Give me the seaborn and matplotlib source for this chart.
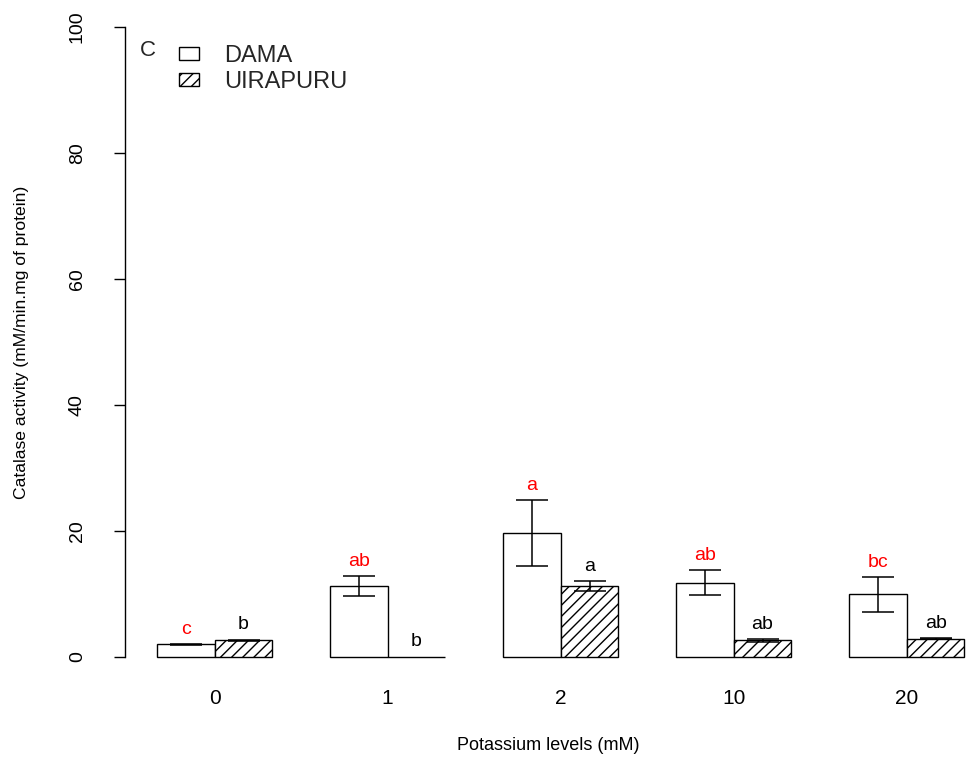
import matplotlib
matplotlib.use("Agg")
import matplotlib.pyplot as plt
import seaborn as sns
import pandas as pd
import numpy as np

# ---- data ----
levels = ["0", "1", "2", "10", "20"]
cultivars = ["DAMA", "UIRAPURU"]
dama_mean = [2.0, 11.2, 19.7, 11.8, 9.9]
dama_err = [0.1, 1.6, 5.2, 2.0, 2.8]
uira_mean = [2.6, 0.05, 11.2, 2.6, 2.9]
uira_err = [0.15, 0.0, 0.8, 0.2, 0.1]
dama_letters = ["c", "ab", "a", "ab", "bc"]
uira_letters = ["b", "b", "a", "ab", "ab"]
yticks = [0, 20, 40, 60, 80, 100]

df = pd.DataFrame({
    "level": levels * 2,
    "cultivar": [cultivars[0]] * len(levels) + [cultivars[1]] * len(levels),
    "value": dama_mean + uira_mean,
})

sns.set_style("white")
plt.rcParams["font.family"] = ["Liberation Sans", "DejaVu Sans"]
plt.rcParams["hatch.linewidth"] = 1.0

W, H = 966, 763
fig = plt.figure(figsize=(W / 100, H / 100), dpi=100)
ax_left, ax_bottom, ax_w, ax_h = 124.7, 81.0, 872.0, 680.0
ax = fig.add_axes([ax_left / W, ax_bottom / H, ax_w / W, ax_h / H])

sns.barplot(data=df, x="level", y="value", hue="cultivar", order=levels,
            hue_order=cultivars, palette=["white", "white"], edgecolor="black",
            linewidth=1.0, width=2 / 3, errorbar=None, legend=False, ax=ax,
            saturation=1)

bar_containers = list(ax.containers)
for bar in bar_containers[1]:
    bar.set_hatch("///")

means = [dama_mean, uira_mean]
errs = [dama_err, uira_err]
letters = [dama_letters, uira_letters]
colors = ["#FF0000", "black"]
for k, cont in enumerate(bar_containers):
    xs = np.array([b.get_x() + b.get_width() / 2 for b in cont])
    m = np.array(means[k])
    e = np.array(errs[k])
    mask = e > 0
    ax.errorbar(xs[mask], m[mask], yerr=e[mask], fmt="none", ecolor="black",
                elinewidth=1.1, capsize=11.5, capthick=1.1)
    for x, mv, ev, t in zip(xs, m, e, letters[k]):
        ax.text(x, mv + ev + 1.6, t, ha="center", va="baseline",
                color=colors[k], fontsize=14)

ax.set_xlim(-0.52, 4.52)
ax.set_ylim(-4, 104)
ax.set_yticks(yticks)
ax.set_yticklabels([str(t) for t in yticks])
for s in ["top", "right", "bottom"]:
    ax.spines[s].set_visible(False)
ax.spines["left"].set_bounds(0, 100)
ax.spines["left"].set_linewidth(1.0)
ax.spines["left"].set_color("black")

ax.tick_params(axis="x", length=0, pad=5, labelsize=15, colors="black")
ax.tick_params(axis="y", length=8, width=1.0, pad=20, labelsize=14,
               colors="black", left=True, labelrotation=90)
for lbl in ax.get_yticklabels():
    lbl.set_va("center")

ax.set_xlabel("Potassium levels (mM)", fontsize=13, color="black")
ax.xaxis.set_label_coords((548 - ax_left) / ax_w, -55 / ax_h)
ax.set_ylabel("Catalase activity (mM/min.mg of protein)", fontsize=12.6,
              color="black")
ax.yaxis.set_label_coords((29 - ax_left) / ax_w, 0.5)

handles = [bar_containers[0][0], bar_containers[1][0]]
leg = ax.legend(handles, cultivars, loc="upper left",
                bbox_to_anchor=(179 / W, 1 - 45 / H),
                bbox_transform=fig.transFigure, frameon=False, fontsize=17,
                handlelength=0.85, handleheight=0.48, handletextpad=1.05,
                borderpad=0, borderaxespad=0, labelspacing=0.15)
fig.text(148 / W, 1 - 51 / H, "C", ha="center", va="center", fontsize=16)

fig.savefig("out.png", dpi=100, facecolor="white")
